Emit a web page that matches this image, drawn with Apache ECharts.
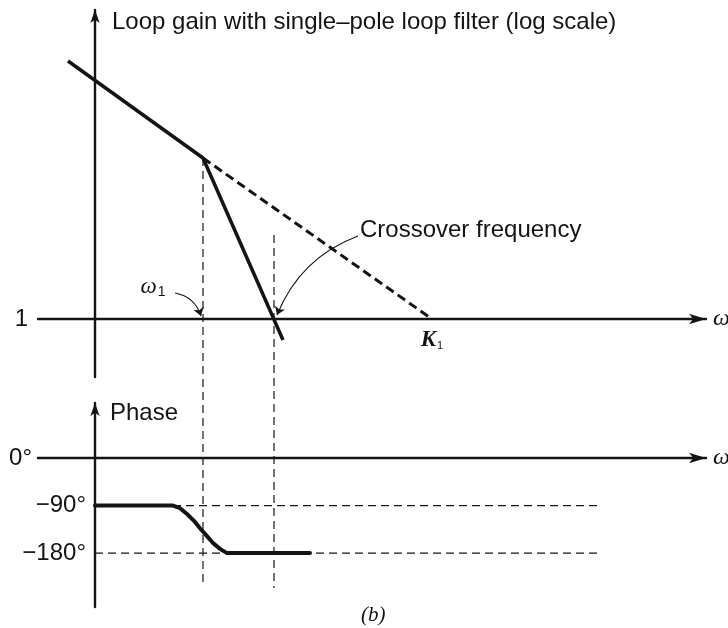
<!DOCTYPE html>
<html>
<head>
<meta charset="utf-8">
<script src="https://cdn.jsdelivr.net/npm/echarts@6/dist/echarts.min.js"></script>
<style>
  html, body { margin: 0; padding: 0; background: #fff; }
  #chart { width: 728px; height: 628px; }
</style>
</head>
<body>
<div id="chart"></div>
<script>
// Frequencies on a log scale: x = log10(omega), in decades from the gain axis
const omega1 = 1.08;       // loop-filter pole
const omegaC = 1.79;       // crossover frequency
const K1 = 3.37;           // unity-gain point without the filter pole

// Loop gain asymptotes, y = log10|G| (0 means gain of 1)
const gainX = [-0.27, 1.08, 1.88];
const gainY = [2.58, 1.61, -0.21];
const noPoleX = [1.08, 3.37];
const noPoleY = [1.61, 0];

// Phase of the loop gain, degrees
const phaseX = [0, 0.78, 0.85, 0.92, 0.99, 1.05, 1.12, 1.18, 1.25, 1.32, 2.15];
const phaseY = [-90, -90, -95, -106, -119, -133, -148, -161, -172, -180, -180];
const phaseTicks = [0, -90, -180];
const phaseRefEnd = 5.05;

// Gain-axis tick
const gainTicks = [0];

// Drop lines from the gain plot down through the phase plot
const dropBottom = -2.67;

const INK = '#141414';
const SANS = '"Liberation Sans", Arial, Helvetica, sans-serif';
const SERIF = '"Liberation Serif", "Times New Roman", serif';

const zip = (xs, ys) => xs.map((x, i) => [x, ys[i]]);

const chart = echarts.init(document.getElementById('chart'), null, { renderer: 'canvas' });

const baseX = {
  type: 'value',
  min: -0.57,
  max: 6.11,
  axisLine: { show: true, onZero: true, symbol: ['none', 'arrow'], symbolSize: [8, 17],
              lineStyle: { color: INK, width: 2.4 } },
  axisTick: { show: false },
  axisLabel: { show: false },
  splitLine: { show: false },
  name: 'ω',
  nameLocation: 'end',
  nameGap: 7,
  nameTextStyle: { fontFamily: SERIF, fontStyle: 'italic', fontSize: 24, color: INK,
                   align: 'left', verticalAlign: 'middle' }
};

const option = {
  animation: false,
  backgroundColor: '#ffffff',
  title: {
    text: '(b)',
    left: 356,
    top: 600,
    textStyle: { fontFamily: SERIF, fontStyle: 'italic', fontWeight: 'normal', fontSize: 21, color: INK }
  },
  grid: [
    { left: 38, right: 22, top: 10, bottom: 251, containLabel: false, outerBoundsMode: 'none' },
    { left: 38, right: 22, top: 403, bottom: 21, containLabel: false, outerBoundsMode: 'none' }
  ],
  xAxis: [
    Object.assign({}, baseX, { gridIndex: 0 }),
    Object.assign({}, baseX, { gridIndex: 1 })
  ],
  yAxis: [
    {
      gridIndex: 0,
      type: 'value',
      min: -0.58,
      max: 3.09,
      axisLine: { show: true, onZero: true, symbol: ['none', 'arrow'], symbolSize: [7, 13],
                  lineStyle: { color: INK, width: 2.4 } },
      axisTick: { show: false },
      splitLine: { show: false },
      axisLabel: {
        customValues: gainTicks,
        formatter: v => (v === 0 ? '1' : ''),
        margin: 10,
        fontFamily: SANS, fontSize: 24, color: INK
      },
      name: 'Loop gain with single–pole loop filter (log scale)',
      nameLocation: 'end',
      nameGap: -12,
      nameTextStyle: { fontFamily: SANS, fontSize: 24, color: INK,
                       align: 'left', verticalAlign: 'middle', padding: [0, 0, 0, 17] }
    },
    {
      gridIndex: 1,
      type: 'value',
      min: -282,
      max: 104,
      axisLine: { show: true, onZero: true, symbol: ['none', 'arrow'], symbolSize: [7, 13],
                  lineStyle: { color: INK, width: 2.4 } },
      axisTick: { show: false },
      splitLine: { show: false },
      axisLabel: {
        customValues: phaseTicks,
        margin: -48,
        formatter: v => (v === 0 ? '{z|0°}' : '{t|' + String(v).replace('-', '−') + '°}'),
        rich: {
          z: { fontFamily: SANS, fontSize: 24, color: INK, padding: [0, 54, 0, 0] },
          t: { fontFamily: SANS, fontSize: 24, color: INK }
        }
      },
      name: 'Phase',
      nameLocation: 'end',
      nameGap: -10,
      nameTextStyle: { fontFamily: SANS, fontSize: 24, color: INK,
                       align: 'left', verticalAlign: 'middle', padding: [0, 0, 0, 15] }
    }
  ],
  series: [
    {
      name: 'Loop gain',
      type: 'line',
      xAxisIndex: 0, yAxisIndex: 0,
      data: zip(gainX, gainY),
      symbol: 'none',
      lineStyle: { color: INK, width: 3.5 },
      z: 5
    },
    {
      name: 'Without filter pole',
      type: 'line',
      xAxisIndex: 0, yAxisIndex: 0,
      data: zip(noPoleX, noPoleY),
      symbol: 'none',
      lineStyle: { color: INK, width: 3, type: [9, 5] },
      z: 4
    },
    {
      name: 'omega1 drop',
      type: 'line',
      xAxisIndex: 0, yAxisIndex: 0,
      clip: false,
      data: [[omega1, gainY[1]], [omega1, dropBottom]],
      symbol: 'none',
      lineStyle: { color: INK, width: 1.2, type: [8, 5] },
      z: 2
    },
    {
      name: 'crossover drop',
      type: 'line',
      xAxisIndex: 0, yAxisIndex: 0,
      clip: false,
      data: [[omegaC, 0.84], [omegaC, dropBottom - 0.02]],
      symbol: 'none',
      lineStyle: { color: INK, width: 1.2, type: [8, 5] },
      z: 2
    },
    {
      name: 'pointer arrows',
      type: 'lines',
      coordinateSystem: 'cartesian2d',
      xAxisIndex: 0, yAxisIndex: 0,
      silent: true,
      symbol: ['none', 'arrow'],
      symbolSize: 8,
      lineStyle: { color: INK, width: 1.1, opacity: 1 },
      data: [
        { coords: [[0.80, 0.26], [1.06, 0.03]], lineStyle: { curveness: 0.3 } },
        { coords: [[2.63, 0.83], [1.82, 0.04]], lineStyle: { curveness: -0.22 } }
      ],
      z: 6
    },
    {
      name: 'annotations',
      type: 'scatter',
      xAxisIndex: 0, yAxisIndex: 0,
      symbolSize: 0,
      silent: true,
      itemStyle: { opacity: 1 },
      data: [
        {
          value: [0.58, 0.32],
          label: { show: true, position: 'inside', color: INK, formatter: '{w|ω}{s|1}',
                   rich: { w: { fontFamily: SERIF, fontStyle: 'italic', fontSize: 23, color: INK },
                           s: { fontFamily: SANS, fontSize: 14, color: INK, padding: [10, 0, 0, 1] } } }
        },
        {
          value: [K1, 0],
          label: { show: true, position: 'bottom', distance: 10, color: INK, formatter: '{k|K}{s|1}',
                   rich: { k: { fontFamily: SERIF, fontStyle: 'italic', fontWeight: 'bold', fontSize: 23, color: INK },
                           s: { fontFamily: SANS, fontSize: 11, color: INK, padding: [10, 0, 0, 1] } } }
        },
        {
          value: [2.63, 0.83],
          label: { show: true, position: 'right', distance: 2, offset: [0, -6],
                   formatter: 'Crossover frequency',
                   fontFamily: SANS, fontSize: 24, color: INK }
        }
      ]
    },
    {
      name: 'Phase',
      type: 'line',
      xAxisIndex: 1, yAxisIndex: 1,
      data: zip(phaseX, phaseY),
      symbol: 'none',
      lineStyle: { color: INK, width: 4, join: 'round', cap: 'round' },
      z: 5
    },
    {
      name: '-90 reference',
      type: 'line',
      xAxisIndex: 1, yAxisIndex: 1,
      data: [[phaseX[1], -90], [phaseRefEnd, -90]],
      symbol: 'none',
      lineStyle: { color: INK, width: 1.2, type: [8, 5] },
      z: 3
    },
    {
      name: '-180 reference',
      type: 'line',
      xAxisIndex: 1, yAxisIndex: 1,
      data: [[0, -180], [phaseRefEnd, -180]],
      symbol: 'none',
      lineStyle: { color: INK, width: 1.2, type: [8, 5] },
      z: 3
    }
  ]
};

chart.setOption(option);
</script>
</body>
</html>
